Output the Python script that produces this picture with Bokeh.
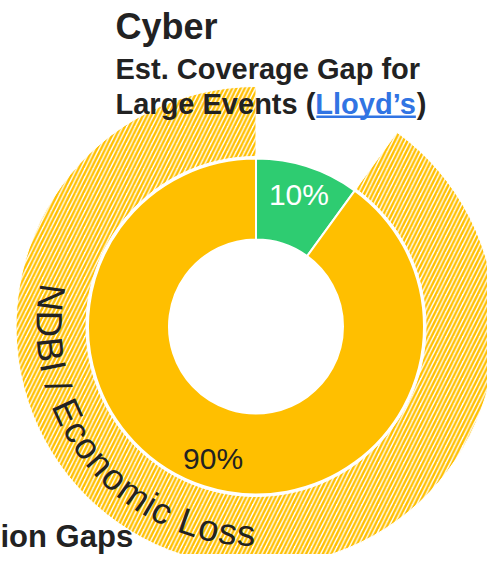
import math
from bokeh.plotting import figure
from bokeh.models import Range1d, ColumnDataSource
from bokeh.core.properties import value
from bokeh.embed import file_html
from bokeh.resources import INLINE

# ---------------- data ----------------
categories = ["Insured", "NDBI / Economic Loss"]
shares = [10, 90]
share_labels = ["10%", "90%"]
colors = ["#2ecc71", "#ffbf00"]
label_colors = ["#ffffff", "#222222"]
outer_label = "NDBI / Economic Loss"
title_text = "Cyber"
subtitle_1 = "Est. Coverage Gap for"
subtitle_2a = "Large Events ("
subtitle_link = "Lloyd\u2019s"
subtitle_2b = ")"
side_title = "ion Gaps"

# ---------------- layout ----------------
FONT = "Liberation Sans"
DARK = "#222222"
LINK = "#3174e3"
CX, CY = 255.5, -326.0
R_HOLE, R_IN, R_OUT0, R_OUT1 = 87, 168, 170, 240
R_TEXT_MID = 207
R_SPACING = 206
TEXT_START_DEG = 168.3
CURVE_FONT_PX = 36.5
MID = 0.35  # middle-of-text offset above the baseline, in em

REG = {"N": 722, "D": 722, "B": 667, "I": 278, " ": 278, "/": 278, "E": 667,
       "c": 500, "o": 556, "n": 556, "m": 833, "i": 222, "L": 556, "s": 500}
BOLD = {"L": 611, "a": 556, "r": 389, "g": 611, "e": 556, " ": 278, "E": 667,
        "v": 556, "n": 611, "t": 333, "s": 556, "(": 333, "l": 278, "o": 611,
        "y": 556, "d": 611, "\u2019": 278, ")": 333}


def width(txt, table, px):
    return sum(table.get(ch, 556) for ch in txt) / 1000.0 * px


def mid_y(baseline_px, font_px):
    # screen baseline -> data y of the text middle
    return -(baseline_px - MID * font_px)


p = figure(width=487, height=554, x_range=Range1d(0, 487), y_range=Range1d(-554, 0),
           output_backend="svg", toolbar_location=None, min_border=0,
           x_axis_type=None, y_axis_type=None)
p.grid.visible = False
p.outline_line_color = None
p.background_fill_color = "white"
p.border_fill_color = "white"

# angles (clockwise from 12 o'clock)
total = float(sum(shares))
starts, ends, mids = [], [], []
cum = 0.0
for s in shares:
    a0 = 90 - cum / total * 360
    cum += s
    a1 = 90 - cum / total * 360
    starts.append(math.radians(a0))
    ends.append(math.radians(a1))
    mids.append(math.radians((a0 + a1) / 2))

src = ColumnDataSource(dict(cat=categories, share=shares, start=starts, end=ends,
                            color=colors))

# outer hatched ring for the gap segment
p.annular_wedge(x=CX, y=CY, inner_radius=R_OUT0, outer_radius=R_OUT1,
                start_angle=starts[1], end_angle=ends[1], direction="clock",
                fill_color="white", line_color="white", line_width=1,
                hatch_pattern="/", hatch_color=colors[1], hatch_scale=8.4,
                hatch_weight=2.4)

# inner donut
p.annular_wedge(x=CX, y=CY, inner_radius=R_HOLE, outer_radius=R_IN,
                start_angle="start", end_angle="end", direction="clock",
                fill_color="color", line_color="white", line_width=2, source=src)

# percentage labels
lab_r = 139
p.text(x=[CX + lab_r * math.cos(m) for m in mids],
       y=[CY + lab_r * math.sin(m) for m in mids],
       text=share_labels, text_color=label_colors,
       text_font=value(FONT), text_font_size="30px",
       text_align="center", text_baseline="middle")

# curved label on outer ring
xs, ys, chars, angs = [], [], [], []
adv = 0.0
for ch in outer_label:
    w = REG.get(ch, 556) / 1000.0 * CURVE_FONT_PX
    theta = math.radians(TEXT_START_DEG) + (adv + w / 2) / R_SPACING
    adv += w
    if ch == " ":
        continue
    xs.append(CX + R_TEXT_MID * math.cos(theta))
    ys.append(CY + R_TEXT_MID * math.sin(theta))
    chars.append(ch)
    angs.append(theta + math.pi / 2)
p.text(x=xs, y=ys, text=chars, angle=angs, text_color=DARK,
       text_font=value(FONT), text_font_size=f"{CURVE_FONT_PX}px",
       text_align="center", text_baseline="middle")

# titles
TX = 115
p.text(x=[TX], y=[mid_y(38.5, 36)], text=[title_text], text_color=DARK,
       text_font=value(FONT), text_font_size="36px", text_font_style="bold",
       text_align="left", text_baseline="middle")
p.text(x=[TX], y=[mid_y(78.3, 29)], text=[subtitle_1], text_color=DARK,
       text_font=value(FONT), text_font_size="29px", text_font_style="bold",
       text_align="left", text_baseline="middle")
p.text(x=[TX], y=[mid_y(113.3, 29)], text=[subtitle_2a], text_color=DARK,
       text_font=value(FONT), text_font_size="29px", text_font_style="bold",
       text_align="left", text_baseline="middle")
lx0 = TX + width(subtitle_2a, BOLD, 29)
lx1 = lx0 + width(subtitle_link, BOLD, 29)
p.text(x=[lx0], y=[mid_y(113.3, 29)], text=[subtitle_link], text_color=LINK,
       text_font=value(FONT), text_font_size="29px", text_font_style="bold",
       text_align="left", text_baseline="middle")
p.segment(x0=[lx0 + 1], y0=[-116.3], x1=[lx1 - 1], y1=[-116.3],
          line_color=LINK, line_width=2.5)
p.text(x=[lx1], y=[mid_y(113.3, 29)], text=[subtitle_2b], text_color=DARK,
       text_font=value(FONT), text_font_size="29px", text_font_style="bold",
       text_align="left", text_baseline="middle")

# cut-off neighbouring title
p.text(x=[0], y=[mid_y(547, 31)], text=[side_title], text_color=DARK,
       text_font=value(FONT), text_font_size="31px", text_font_style="bold",
       text_align="left", text_baseline="middle")

open("out.html", "w").write(file_html(p, INLINE))
